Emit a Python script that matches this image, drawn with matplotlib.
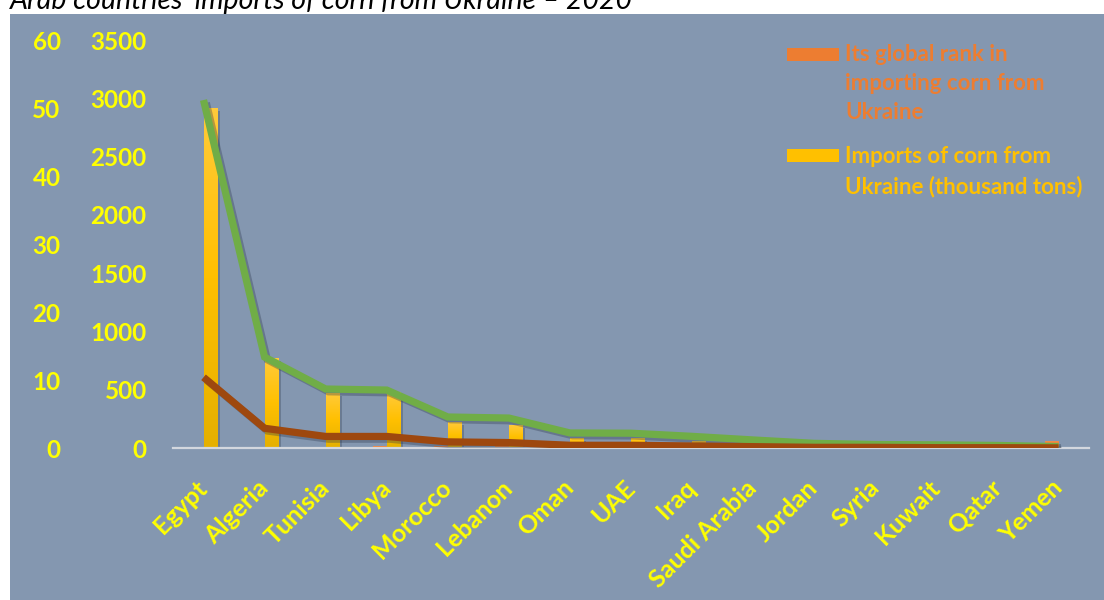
import numpy as np
import matplotlib
matplotlib.use("Agg")
import matplotlib.pyplot as plt
from matplotlib.patches import Rectangle
from matplotlib.colors import LinearSegmentedColormap
import matplotlib.patheffects as pe

# ---- data -------------------------------------------------------------
countries = ["Egypt", "Algeria", "Tunisia", "Libya", "Morocco", "Lebanon", "Oman",
             "UAE", "Iraq", "Saudi Arabia", "Jordan", "Syria", "Kuwait", "Qatar", "Yemen"]
imports_kt = [2916, 772, 472, 480, 223, 197, 86, 86, 60, 40, 25, 20, 15, 10, 3]
global_rank = [3, 8, 12, 13, 17, 18, 25, 26, 28, 32, 35, 36, 40, 45, 60]
imports_line = [2985, 780, 506, 497, 266, 257, 129, 127, 100, 69, 40, 30, 27, 22, 12]
share_pct = [10.4, 2.9, 1.7, 1.7, 0.9, 0.8, 0.4, 0.4, 0.3, 0.2, 0.1, 0.1, 0.05, 0.05, 0.02]

imports_ticks = [0, 500, 1000, 1500, 2000, 2500, 3000, 3500]
share_ticks = [0, 10, 20, 30, 40, 50, 60]

title = "Arab countries' imports of corn from Ukraine \u2013 2020"
legend_rank = ["Its global rank in", "importing corn from", "Ukraine"]
legend_imports = ["Imports of corn from", "Ukraine (thousand tons)"]

# ---- style ------------------------------------------------------------
PANEL = "#8497B0"
YELLOW_TXT = "#FFFF00"
BAR_YELLOW = "#FFC000"
BAR_ORANGE = "#ED7D31"
GREEN = "#70AD47"
BROWN = "#9E480E"
FONT = "Lato"

W, H = 1104, 600
fig = plt.figure(figsize=(W / 100, H / 100), dpi=100, facecolor="white")

def fx(px):
    return px / W

def fy(py):
    return 1 - py / H

# slate panel behind the chart
fig.patches.append(Rectangle((fx(10), 0), 1 - fx(10), fy(14), transform=fig.transFigure,
                             facecolor=PANEL, edgecolor="none", zorder=-10))

ax = fig.add_axes([fx(173), fy(448), fx(1089) - fx(173), fy(40) - fy(448)])
ax.set_facecolor("none")
ax.set_zorder(1)
ax2 = ax.twinx()
ax2.set_facecolor("none")
ax2.set_zorder(2)

x = np.arange(len(countries))
w = 0.22

shadow_patch = [pe.SimplePatchShadow(offset=(2, -2), shadow_rgbFace="#2f3b4f", alpha=0.3), pe.Normal()]
rank_bars = ax.bar(x - w / 2, global_rank, w, color=BAR_ORANGE, path_effects=shadow_patch, zorder=2)
imp_bars = ax.bar(x + w / 2, imports_kt, w, color=BAR_YELLOW, path_effects=shadow_patch, zorder=2)

# vertical gradient fill inside each bar
grad_y = LinearSegmentedColormap.from_list("gy", ["#E5B000", "#FFC000", "#FFCA3A"])
grad_o = LinearSegmentedColormap.from_list("go", ["#D96A20", "#ED7D31", "#F28E4A"])
g = np.linspace(0, 1, 64).reshape(-1, 1)
for bars, cmap in ((imp_bars, grad_y), (rank_bars, grad_o)):
    for b in bars:
        x0, y0, bw, bh = b.get_x(), b.get_y(), b.get_width(), b.get_height()
        im = ax.imshow(g, cmap=cmap, origin="lower", aspect="auto",
                       extent=(x0, x0 + bw, y0, y0 + bh), zorder=2.1, interpolation="bilinear")
        im.set_clip_path(b)

shadow_line = [pe.SimpleLineShadow(offset=(2, -2), shadow_color="#2f3b4f", alpha=0.35), pe.Normal()]
ax.plot(x, imports_line, color=GREEN, lw=5.2, solid_joinstyle="miter",
        solid_capstyle="butt", path_effects=shadow_line, zorder=3)
ax2.plot(x, share_pct, color=BROWN, lw=5.2, solid_joinstyle="miter",
         solid_capstyle="butt", path_effects=shadow_line, zorder=3)

ax.set_xlim(-0.5, len(countries) - 0.5)
ax.set_ylim(0, 3500)
ax2.set_ylim(0, 60)

ytick_font = dict(family=FONT, weight="bold", size=17.5, color=YELLOW_TXT)
xtick_font = dict(family=FONT, weight="bold", size=18, color=YELLOW_TXT)

ax.set_yticks(imports_ticks)
ax.set_yticklabels([str(t) for t in imports_ticks], **ytick_font)
ax.tick_params(axis="y", length=0, pad=19)

ax2.yaxis.tick_left()
ax2.spines["left"].set_position(("outward", 62))
ax2.set_yticks(share_ticks)
ax2.set_yticklabels([str(t) for t in share_ticks], **ytick_font)
ax2.tick_params(axis="y", length=0, pad=19)

ax.set_xticks(x)
ax.set_xticklabels(countries, rotation=45, ha="right", va="center",
                   rotation_mode="anchor", **xtick_font)
ax.tick_params(axis="x", length=0, pad=26)

for a in (ax, ax2):
    for s in ("top", "right", "left"):
        a.spines[s].set_visible(False)
ax2.spines["bottom"].set_visible(False)
ax.spines["bottom"].set_color("#D3D7DE")
ax.spines["bottom"].set_linewidth(1.6)

# legend, drawn in figure pixels
leg_font = dict(family=FONT, weight="bold", size=16)
fig.patches.append(Rectangle((fx(787), fy(61)), fx(839) - fx(787), fy(48) - fy(61),
                             transform=fig.transFigure, facecolor=BAR_ORANGE, edgecolor="none"))
fig.patches.append(Rectangle((fx(787), fy(162)), fx(839) - fx(787), fy(149) - fy(162),
                             transform=fig.transFigure, facecolor=BAR_YELLOW, edgecolor="none"))
for i, line in enumerate(legend_rank):
    fig.text(fx(845), fy(61 + 29 * i), line, color=BAR_ORANGE, va="baseline", ha="left", **leg_font)
for i, line in enumerate(legend_imports):
    fig.text(fx(845), fy(163 + 30 * i), line, color=BAR_YELLOW, va="baseline", ha="left", **leg_font)

fig.text(fx(10), fy(9.5), title, family=FONT, style="italic", size=20.5, color="black",
         va="baseline", ha="left")

fig.savefig("out.png", dpi=100, facecolor="white")
